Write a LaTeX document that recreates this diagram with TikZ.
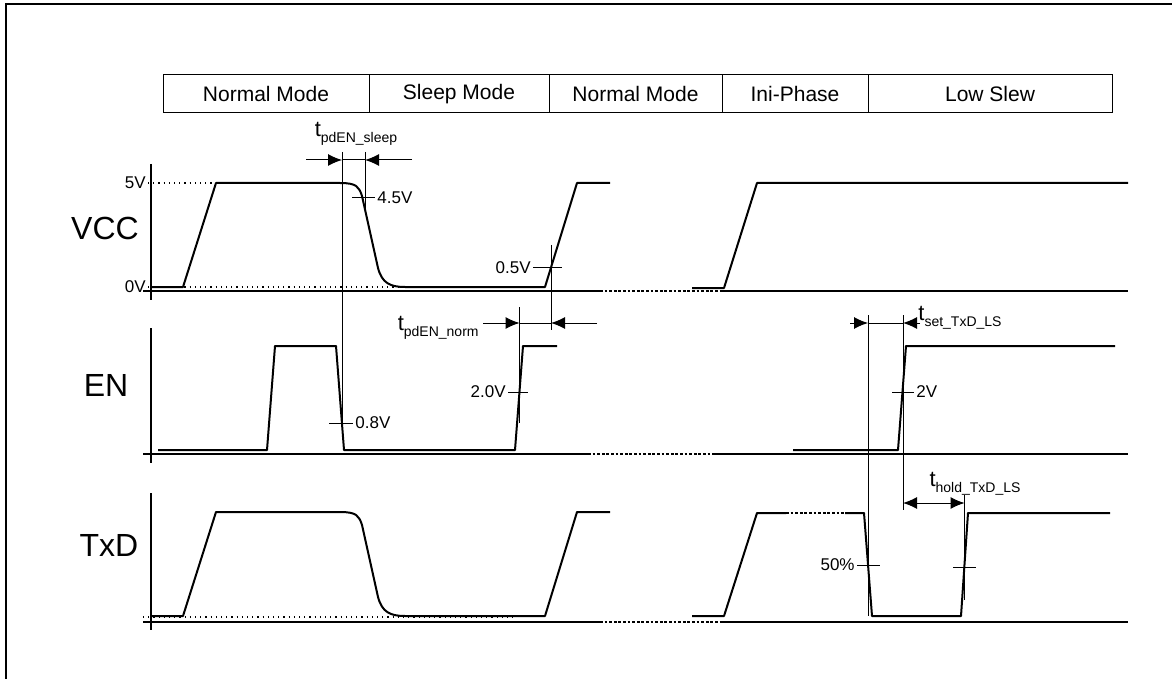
\documentclass[tikz,border=0pt]{standalone}
\usepackage{fontspec}
\setmainfont{Liberation Sans}
\usetikzlibrary{positioning,arrows.meta}

\newcommand{\tlabel}[1]{t\raisebox{-0.5ex}{\fontsize{7}{8}\selectfont #1}}

\begin{document}
\begin{tikzpicture}[x=0.5pt,y=-0.5pt,
  wave/.style={line width=1pt, line join=round},
  axis/.style={line width=1pt},
  gap/.style={line width=1.4pt, dash pattern=on 1.4pt off 0.9pt},
  level/.style={line width=0.6pt, dotted},
  guide/.style={line width=0.5pt},
  dim/.style={line width=0.5pt, -{Latex[length=7pt,width=6pt]}},
  dimboth/.style={line width=0.5pt, {Latex[length=7pt,width=6pt]}-{Latex[length=7pt,width=6pt]}},
  sig/.style={font=\fontsize{16}{18}\selectfont},
  val/.style={font=\fontsize{8.5}{10}\selectfont, inner sep=1pt},
  tl/.style={font=\fontsize{11}{13}\selectfont, inner sep=0pt},
  mode/.style={draw, rectangle, line width=0.5pt, minimum height=19pt, inner sep=0pt, outer sep=0pt, font=\fontsize{10.5}{12}\selectfont}]

  \useasboundingbox (0,0) rectangle (1172,679);
  \draw[line width=1pt] (6,679) -- (6,4) -- (1172,4);

  % operating modes
  \node (m1) [mode, minimum width=103pt, anchor=north west] at (163,75) {Normal Mode};
  \node (m2) [mode, minimum width=90pt, right=0pt of m1] {Sleep Mode};
  \node (m3) [mode, minimum width=86.5pt, right=0pt of m2] {Normal Mode};
  \node (m4) [mode, minimum width=73pt, right=0pt of m3] {Ini-Phase};
  \node (m5) [mode, minimum width=122pt, right=0pt of m4] {Low Slew};

  % signal names
  \node (vcc) [sig] at (105,228) {VCC};
  \node (en) [sig] at (106,385) {EN};
  \node (txd) [sig] at (109,545) {TxD};

  % axes
  \foreach \top/\base/\bot/\ga/\gb in {164/291/300/600/722, 328/454/463/588/712, 493/622/630/600/722} {
    \draw[axis] (151,\top) -- (151,\bot);
    \draw[axis] (143,\base) -- (\ga,\base);
    \draw[gap] (\ga,\base) -- (\gb,\base);
    \draw[axis] (\gb,\base) -- (1128,\base);
  }

  % VCC
  \node (v5) [val, anchor=east] at (148,183) {5V};
  \node (v0) [val, anchor=east] at (148,287) {0V};
  \draw[level] (v5.east) -- (216,183);
  \draw[level] (v0.east) -- (545,287);
  \draw[level] (143,617) -- (517,617);
  \foreach \dy in {0,329} {
    \draw[wave, shift={(0,\dy)}] (151,287) -- (183,287) -- (216,183) -- (340,183)
      .. controls (357,183) and (359,187) .. (362,196) -- (378,268)
      .. controls (382,283) and (390,287) .. (405,287) -- (545,287) -- (577,183) -- (610,183);
  }
  \draw[wave] (692,288) -- (724,288) -- (757,183) -- (1128,183);

  % EN
  \draw[wave] (158,450) -- (267,450) -- (275,346) -- (336,346) -- (344,450)
    -- (515,450) -- (523,346) -- (557,346);
  \draw[wave] (793,450) -- (898,450) -- (906,346) -- (1115,346);

  % TxD
  \draw[wave] (692,616) -- (724,616) -- (757,513) -- (786,513);
  \draw[gap] (786,513) -- (845,513);
  \draw[wave] (845,513) -- (864,513) -- (872,616) -- (961,616) -- (968,513) -- (1110,513);

  % t_pdEN_sleep
  \draw[guide] (342,152) -- (342,423);
  \draw[guide] (365,152) -- (365,213);
  \draw[dim] (306,160) -- (342,160);
  \draw[dim] (412,160) -- (365,160);
  \draw[guide] (342,160) -- (365,160);
  \node (tsleep) [tl] at (356,134) {\tlabel{pdEN\_sleep}};
  \draw[guide] (352,198) -- (375,198);
  \node (u45) [val, anchor=west] at (375,198) {4.5V};
  \draw[guide] (329,423) -- (353,423);
  \node (u08) [val, anchor=west] at (353,423) {0.8V};

  % t_pdEN_norm
  \draw[guide] (533,268) -- (562,268);
  \node (u05) [val, anchor=east] at (533,268) {0.5V};
  \draw[guide] (551,245) -- (551,330);
  \draw[guide] (519.5,307) -- (519.5,423);
  \draw[guide] (508,392) -- (528,392);
  \node (u20) [val, anchor=east] at (508,392) {2.0V};
  \draw[dim] (483,323) -- (519.5,323);
  \draw[dim] (597,323) -- (551,323);
  \draw[guide] (519.5,323) -- (551,323);
  \node (tnorm) [tl, anchor=east] at (479,328) {\tlabel{pdEN\_norm}};

  % t_set_TxD_LS and t_hold_TxD_LS
  \draw[guide] (868,315) -- (868,616);
  \draw[guide] (903,315) -- (903,510);
  \draw[dim] (850,323) -- (868,323);
  \draw[dim] (920,323) -- (903,323);
  \draw[guide] (868,323) -- (903,323);
  \node (tset) [tl, anchor=west] at (918,318) {\tlabel{set\_TxD\_LS}};
  \draw[guide] (892,392) -- (914,392);
  \node (u2) [val, anchor=west] at (914,392) {2V};
  \draw[guide] (857,565) -- (880,565);
  \node (u50) [val, anchor=east] at (857,565) {50\%};
  \draw[guide] (953,567) -- (976,567);
  \draw[guide] (964.5,495) -- (964.5,600);
  \draw[dimboth] (903,503) -- (964.5,503);
  \node (thold) [tl] at (975,484) {\tlabel{hold\_TxD\_LS}};
\end{tikzpicture}
\end{document}
